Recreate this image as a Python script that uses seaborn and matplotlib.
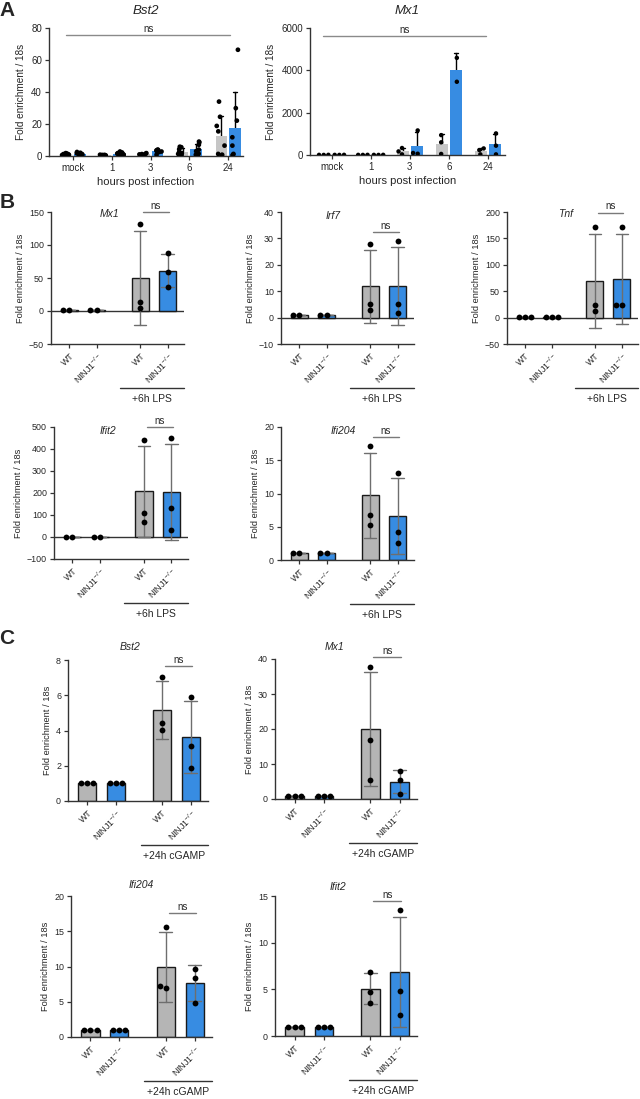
import numpy as np
import pandas as pd
import matplotlib
matplotlib.use('Agg')
import matplotlib.pyplot as plt
import seaborn as sns

sns.set_style('ticks')
plt.rcParams['font.family'] = ['Liberation Sans', 'DejaVu Sans']
plt.rcParams['mathtext.fontset'] = 'custom'
plt.rcParams['mathtext.rm'] = 'Liberation Sans'
plt.rcParams['mathtext.it'] = 'Liberation Sans:italic'
plt.rcParams['axes.edgecolor'] = '#333333'
plt.rcParams['axes.linewidth'] = 1.0

np.random.seed(3)  # only for the strip jitter in panel A

GREY_A = '#c6c6c6'
GREY = '#b5b5b5'
BLUE = '#1a8cff'

# ---- panel A : time course after infection
hours = ['mock', '1', '3', '6', '24']
bst2_wt = [[1.8, 1.5, 1.2, 1.0, 0.9, 0.8, 0.6, 0.5],
           [0.8, 0.7, 0.6, 0.5, 0.5, 0.4, 0.3, 0.3],
           [1.8, 1.5, 1.2, 1.0, 0.8, 0.6, 0.5, 0.4],
           [5.8, 5.5, 4.2, 2.5, 1.8, 1.3, 0.6, 0.4],
           [34.0, 24.5, 18.8, 15.4, 6.5, 1.3, 0.8, 0.5]]
bst2_ko = [[2.5, 2.0, 1.7, 1.4, 1.2, 1.0, 0.7, 0.4],
           [2.8, 2.2, 1.8, 1.5, 1.2, 1.0, 0.8, 0.5],
           [4.0, 3.8, 3.5, 3.2, 3.0, 2.8, 2.5, 0.8],
           [9.0, 8.5, 7.0, 4.0, 3.0, 1.5, 0.8, 0.5],
           [66.4, 29.9, 22.1, 11.7, 6.5, 1.3, 0.8, 0.5]]
mx1a_wt = [[8, 6, 4], [8, 6, 4], [330, 170, 30], [940, 600, 50], [310, 235, 30]]
mx1a_ko = [[8, 6, 4], [8, 6, 4], [1160, 95, 60], [4590, 3460], [1020, 440, 30]]

# ---- panels B and C : WT vs NINJ1-/- , untreated and treated
genos = ['WT', 'KO', 'WT', 'KO']
geno_labels = ['WT', r'NINJ1$^{-/-}$', 'WT', r'NINJ1$^{-/-}$']
xpos = [0, 1, 2.6, 3.6]

b_mx1 = [[1, 1], [1, 1], [132, 14, 5], [88, 59, 37]]
b_irf7 = [[1, 1], [1, 1], [27.8, 5.3, 2.7], [28.9, 5.2, 1.6]]
b_tnf = [[1, 1, 1], [1, 1, 1], [172, 24, 12.7], [172, 24, 24]]
b_ifit2 = [[1, 1], [1, 1], [443, 111, 68], [450, 131, 33]]
b_ifi204 = [[1, 1], [1, 1], [17.1, 6.7, 5.3], [13.1, 4.2, 2.5]]

c_bst2 = [[1, 1, 1], [1, 1, 1], [7.05, 4.45, 4.02], [5.91, 3.13, 1.9]]
c_mx1 = [[1, 1, 1], [1, 1, 1], [37.7, 17.0, 5.3], [7.9, 5.5, 1.5]]
c_ifi204 = [[1, 1, 1], [1, 1, 1], [15.6, 6.9, 7.2], [9.7, 8.35, 4.8]]
c_ifit2 = [[1, 1, 1], [1, 1, 1], [6.9, 4.75, 3.57], [13.5, 4.86, 2.25]]

YLAB = 'Fold enrichment / 18s'

fig = plt.figure(figsize=(6.4, 10.99), dpi=100)


def rect(l, t, r, b):
    return [l / 640, 1 - b / 1099, (r - l) / 640, (b - t) / 1099]


def style(ax, fs):
    sns.despine(ax=ax)
    ax.tick_params(labelsize=fs, length=3, width=0.9, color='#333333', pad=2)


def ns_mark(ax, x0, x1, y, col):
    ax.plot([x0, x1], [y, y], color=col, lw=1, clip_on=False)
    ax.annotate('ns', xy=((x0 + x1) / 2, y), xytext=(0, 1),
                textcoords='offset points', ha='center', va='bottom',
                fontsize=7, annotation_clip=False)


def timecourse(ax, wt, ko, ylim, yticks, title, xlim, ns_x, ns_y, swarm):
    rows = []
    for h, a, b in zip(hours, wt, ko):
        rows += [(h, 'WT', v) for v in a] + [(h, 'KO', v) for v in b]
    df = pd.DataFrame(rows, columns=['hpi', 'geno', 'val'])
    sns.barplot(data=df, x='hpi', y='val', hue='geno', order=hours,
                hue_order=['WT', 'KO'], palette={'WT': GREY_A, 'KO': BLUE},
                width=0.7, gap=0.15, errorbar='sd', capsize=0.18,
                err_kws={'color': 'black', 'linewidth': 1}, linewidth=0,
                legend=False, ax=ax)
    # only upper half of the error bars visible
    for ln in ax.lines:
        ln.set_zorder(0.5)
    pts = dict(data=df, x='hpi', y='val', hue='geno', order=hours,
               hue_order=['WT', 'KO'], palette={'WT': 'black', 'KO': 'black'},
               dodge=True, legend=False, ax=ax, zorder=3)
    if swarm:
        sns.swarmplot(size=3.2, **pts)
    else:
        sns.stripplot(size=3.4, jitter=0.22, **pts)
    ax.set_ylim(*ylim)
    ax.set_yticks(yticks)
    ax.set_xlim(*xlim)
    ax.set_xlabel('hours post infection', fontsize=8, labelpad=3)
    ax.set_ylabel(YLAB, fontsize=7.2)
    ax.set_title(title, fontsize=9.5, fontstyle='italic', pad=10)
    ns_mark(ax, ns_x[0], ns_x[1], ns_y, '#8a8a8a')
    style(ax, 7)


def expr_panel(ax, vals, ylim, yticks, gene, gpos, ns_y, treat, h_px):
    n = [len(v) for v in vals]
    df = pd.DataFrame({'pos': np.repeat(xpos, n),
                       'geno': np.repeat(genos, n),
                       'val': np.concatenate(vals)})
    if ylim[0] < 0:
        ax.axhline(0, color='#333333', lw=1, zorder=0.8)
    sns.barplot(data=df, x='pos', y='val', hue='geno', native_scale=True,
                dodge=False, width=0.63, palette={'WT': GREY, 'KO': BLUE},
                errorbar='sd', capsize=0.45,
                err_kws={'color': '#6e6e6e', 'linewidth': 1},
                edgecolor='#1a1a1a', linewidth=1, legend=False, ax=ax)
    sns.swarmplot(data=df, x='pos', y='val', native_scale=True, color='black',
                  size=4.2, ax=ax, zorder=3)
    ax.set_ylim(*ylim)
    ax.set_yticks(yticks)
    ax.set_xlim(-0.67, 4.2)
    ax.set_xticks(xpos)
    ax.set_xticklabels(geno_labels, rotation=45, ha='right',
                       rotation_mode='anchor', fontsize=6.6)
    ax.set_xlabel('')
    ax.set_ylabel(YLAB, fontsize=6.7, labelpad=3)
    ax.text(gpos[0], gpos[1], gene, transform=ax.transAxes, ha='center',
            va='center', fontsize=7.5, fontstyle='italic')
    ns_mark(ax, 2.7, 3.65, ns_y, '#7a7a7a')
    ax.plot([0.52, 1.0], [-44 / h_px, -44 / h_px], transform=ax.transAxes,
            color='#333333', lw=1, clip_on=False)
    ax.text(0.76, -55 / h_px, treat, transform=ax.transAxes, ha='center',
            va='center', fontsize=7.5)
    style(ax, 6.4)


# A
ax = fig.add_axes(rect(49, 28, 243, 156))
timecourse(ax, bst2_wt, bst2_ko, (0, 80), [0, 20, 40, 60, 80], 'Bst2',
           (-0.62, 4.38), [-0.17, 4.05], 75.6, swarm=False)
ax = fig.add_axes(rect(310, 28, 505, 155))
timecourse(ax, mx1a_wt, mx1a_ko, (0, 6000), [0, 2000, 4000, 6000], 'Mx1',
           (-0.55, 4.43), [-0.22, 3.95], 5620, swarm=True)

# B
LPS = '+6h LPS'
ax = fig.add_axes(rect(51, 212, 184, 344))
expr_panel(ax, b_mx1, (-50, 150), [-50, 0, 50, 100, 150], 'Mx1', (0.44, 0.985), 150, LPS, 132)
ax = fig.add_axes(rect(281, 212, 414, 344))
expr_panel(ax, b_irf7, (-10, 40), [-10, 0, 10, 20, 30, 40], 'Irf7', (0.39, 0.97), 32.4, LPS, 132)
ax = fig.add_axes(rect(507, 212, 638, 344))
expr_panel(ax, b_tnf, (-50, 200), [-50, 0, 50, 100, 150, 200], 'Tnf', (0.45, 0.985), 199, LPS, 132)
ax = fig.add_axes(rect(54, 427, 188, 559))
expr_panel(ax, b_ifit2, (-100, 500), [-100, 0, 100, 200, 300, 400, 500], 'Ifit2', (0.40, 0.97), 498, LPS, 132)
ax = fig.add_axes(rect(281, 427, 414, 560))
expr_panel(ax, b_ifi204, (0, 20), [0, 5, 10, 15, 20], 'Ifi204', (0.47, 0.97), 18.5, LPS, 133)

# C
CG = '+24h cGAMP'
ax = fig.add_axes(rect(68, 660, 208, 801))
expr_panel(ax, c_bst2, (0, 8), [0, 2, 4, 6, 8], 'Bst2', (0.44, 1.09), 7.66, CG, 141)
ax = fig.add_axes(rect(275, 659, 417, 799))
expr_panel(ax, c_mx1, (0, 40), [0, 10, 20, 30, 40], 'Mx1', (0.42, 1.085), 40.5, CG, 140)
ax = fig.add_axes(rect(71, 896, 212, 1037))
expr_panel(ax, c_ifi204, (0, 20), [0, 5, 10, 15, 20], 'Ifi204', (0.50, 1.08), 17.6, CG, 141)
ax = fig.add_axes(rect(275, 896, 417, 1036))
expr_panel(ax, c_ifit2, (0, 15), [0, 5, 10, 15], 'Ifit2', (0.44, 1.065), 14.46, CG, 140)

# panel letters
for lab, y in [('A', 11), ('B', 202), ('C', 638)]:
    fig.text(7 / 640, 1 - y / 1099, lab, fontsize=15, fontweight='bold',
             ha='center', va='center')

fig.savefig('out.png', dpi=100)
